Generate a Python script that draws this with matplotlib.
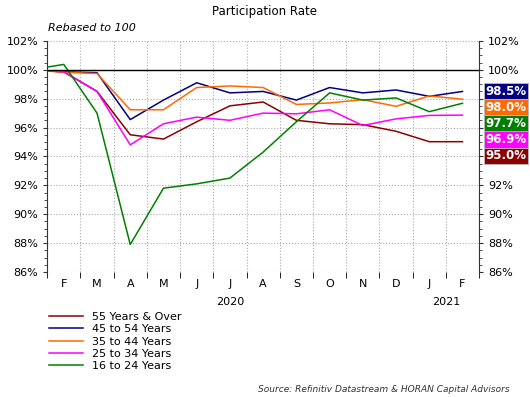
import matplotlib
matplotlib.use("Agg")
import matplotlib.pyplot as plt
import numpy as np

# ---------------- DATA (rebased to 100, Jan 2020 = 100) ----------------
months = ["J", "F", "M", "A", "M", "J", "J", "A", "S", "O", "N", "D", "J", "F"]
years = ["2020", "2021"]

over_55 = [100, 99.86, 98.5, 95.5, 95.2, 96.4, 97.5, 97.77, 96.5, 96.26, 96.2, 95.74, 95.02, 95.02]
age_45_54 = [100, 99.86, 99.8, 96.55, 97.9, 99.1, 98.4, 98.5, 97.9, 98.77, 98.4, 98.6, 98.16, 98.5]
age_35_44 = [100, 99.82, 99.74, 97.23, 97.23, 98.77, 98.88, 98.77, 97.6, 97.7, 97.93, 97.47, 98.19, 97.96]
age_25_34 = [100, 99.86, 98.5, 94.8, 96.26, 96.72, 96.5, 97.0, 96.95, 97.23, 96.14, 96.6, 96.84, 96.86]
age_16_24 = [100, 100.37, 97.0, 87.9, 91.8, 92.1, 92.5, 94.3, 96.4, 98.4, 97.9, 98.05, 97.1, 97.68]

series = [
    ("55 Years & Over", over_55, "#8B0000"),
    ("45 to 54 Years", age_45_54, "#000080"),
    ("35 to 44 Years", age_35_44, "#FF6A00"),
    ("25 to 34 Years", age_25_34, "#FF00FF"),
    ("16 to 24 Years", age_16_24, "#008000"),
]

x = np.arange(len(months))

fig = plt.figure(figsize=(5.3, 3.97), dpi=100)
ax = fig.add_axes([0.089, 0.315, 0.815, 0.582])

# ---------------- LINES ----------------
for name, vals, col in series:
    ax.plot(x, vals, color=col, linewidth=1.1, label=name)

ax.axhline(100, color="black", linewidth=1.0)

# ---------------- END VALUE BOXES (positions first, to know what they hide) ----------------
order = sorted(series, key=lambda s: -s[1][-1])
gap = 1.11
prev = None
box_pos = []
for name, vals, col in order:
    y = vals[-1] if prev is None else min(vals[-1], prev - gap)
    prev = y
    box_pos.append(y)
covered_top = max(box_pos) + gap / 2
covered_bot = min(box_pos) - gap / 2

# ---------------- AXES ----------------
ax.set_xlim(0.57, 13.45)
ax.set_ylim(86, 102)
yt = np.arange(86, 103, 2)
ax.set_yticks(yt)
ax.set_yticklabels([f"{v}%" for v in yt])
ax.set_yticks(np.arange(86, 102.1, 0.5), minor=True)
ax.tick_params(axis="y", which="both", labelsize=8, left=True, right=False,
               direction="out", color="#333333")
ax.tick_params(axis="y", which="major", length=3)
ax.tick_params(axis="y", which="minor", length=2)

# right-hand axis (labels under the value boxes are hidden, like the original)
ax2 = ax.twinx()
ax2.set_ylim(86, 102)
ax2.set_yticks(yt)
ax2.set_yticklabels(["" if covered_bot < v < covered_top else f"{v}%" for v in yt])
ax2.set_yticks(np.arange(86, 102.1, 0.5), minor=True)
ax2.tick_params(axis="y", which="both", labelsize=8, direction="out", color="#333333")
ax2.tick_params(axis="y", which="major", length=3)
ax2.tick_params(axis="y", which="minor", length=2)
for s in ["top", "bottom", "left", "right"]:
    ax2.spines[s].set_visible(False)

# month labels at centers, ticks at boundaries
ax.set_xticks(x[1:])
ax.set_xticklabels(months[1:], fontsize=8)
ax.tick_params(axis="x", which="major", length=0, pad=5)
ax.set_xticks(np.arange(0.5, 13.6, 1), minor=True)
ax.tick_params(axis="x", which="minor", length=4, direction="out")

ax.grid(True, which="minor", axis="x", linestyle=":", color="#aaaaaa", linewidth=0.8)
ax.grid(True, which="major", axis="y", linestyle=":", color="#aaaaaa", linewidth=0.8)

for s in ["top", "bottom"]:
    ax.spines[s].set_visible(False)
ax.spines["left"].set_color("#333333")
ax.spines["right"].set_color("#333333")

# year labels
ax.text(6, -0.11, years[0], transform=ax.get_xaxis_transform(), ha="center", va="top", fontsize=8)
ax.text(12.5, -0.11, years[1], transform=ax.get_xaxis_transform(), ha="center", va="top", fontsize=8)

for (name, vals, col), y in zip(order, box_pos):
    ax2.annotate(f"{vals[-1]:.1f}%", xy=(1.0, y), xycoords=("axes fraction", "data"),
                 xytext=(4.5, 0), textcoords="offset points", ha="left", va="center",
                 fontsize=8.5, fontweight="bold", color="white",
                 bbox=dict(boxstyle="square,pad=0.13", fc=col, ec="#bbbbbb", lw=0.6),
                 annotation_clip=False)

# ---------------- TEXT ----------------
fig.text(0.5, 0.97, "Participation Rate", ha="center", va="center", fontsize=8.5)
fig.text(0.09, 0.93, "Rebased to 100", ha="left", va="center", fontsize=8, style="italic")
fig.text(0.962, 0.018, "Source: Refinitiv Datastream & HORAN Capital Advisors",
         ha="right", va="center", fontsize=6.5, style="italic", color="#333333")

# ---------------- LEGEND ----------------
handles, labels = ax.get_legend_handles_labels()
fig.legend(handles, labels, loc="upper left", bbox_to_anchor=(0.085, 0.225),
           frameon=False, fontsize=8, handlelength=3.0, handletextpad=0.8,
           labelspacing=0.2, borderaxespad=0)

fig.savefig("out.png", dpi=100)
